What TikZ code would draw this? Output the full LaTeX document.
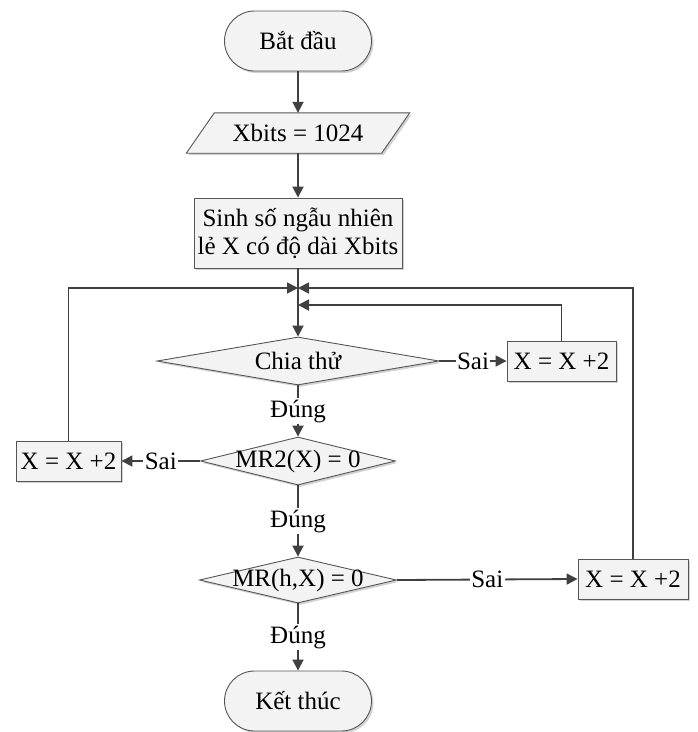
\documentclass[tikz,border=0pt]{standalone}
\usepackage{fontspec}
\setmainfont{Liberation Serif}
\usetikzlibrary{arrows.meta,shapes.geometric,shadows,backgrounds}

\definecolor{lineclr}{HTML}{404040}
\definecolor{edgeclr}{HTML}{555555}
\definecolor{shapefill}{HTML}{F3F3F3}

\tikzset{
  base/.style={draw=edgeclr, line width=0.9pt, fill=shapefill,
    drop shadow={shadow xshift=2pt, shadow yshift=-2pt, fill=black!25, opacity=0.7},
    inner sep=0pt},
  terminal/.style={base, rounded corners=30pt, minimum width=147pt, minimum height=60pt},
  process/.style={base, minimum width=#1, minimum height=40pt},
  decision/.style={base, diamond, aspect=1, inner sep=0pt},
  conn/.style={draw=lineclr, line width=1.8pt, -{Triangle[length=11pt,width=11pt]}},
  lbl/.style={fill=white, inner sep=1.5pt},
}

\begin{document}
\begin{tikzpicture}[x=1pt, y=-1pt, font=\fontsize{25}{28}\selectfont]
  \useasboundingbox (0,0) rectangle (698,732);

  % main column
  \node[terminal] (start) at (298,41) {Bắt đầu};
  \node[minimum width=223pt, minimum height=40pt, inner sep=0pt] (inp) at (298,133) {Xbits = 1024};
  \begin{scope}[on background layer]
    \path[base] ([xshift=28pt]inp.north west) -- (inp.north east)
      -- ([xshift=-28pt]inp.south east) -- (inp.south west) -- cycle;
  \end{scope}
  \node[base, minimum width=208pt, minimum height=70pt, align=center] (gen) at (298,233)
    {Sinh số ngẫu nhiên\\lẻ X có độ dài Xbits};

  \node[decision, minimum width=282pt, minimum height=48pt, label={center:Chia thử}] (d1) at (298,361) {};
  \node[decision, minimum width=195pt, minimum height=48pt, label={center:MR2(X) = 0}] (d2) at (298,461) {};
  \node[decision, minimum width=197pt, minimum height=46pt, label={center:MR(h,X) = 0}] (d3) at (298,580) {};
  \node[terminal] (stop) at (298,701) {Kết thúc};

  % increment boxes
  \node[process=109pt] (r1) at (561.5,361) {X = X +2};
  \node[process=105pt] (l1) at (68.5,461) {X = X +2};
  \node[process=110pt] (r2) at (633,579) {X = X +2};

  % merge points on the main line
  \coordinate (m1) at (298,288);
  \coordinate (m2) at (298,305);

  % connectors
  \draw[conn] (start.south) -- (inp.north);
  \draw[conn] (inp.south) -- (gen.north);
  \draw[conn] (gen.south) -- (d1.north);
  \draw[conn] (d1.south) -- node[lbl] {Đúng} (d2.north);
  \draw[conn] (d2.south) -- node[lbl] {Đúng} (d3.north);
  \draw[conn] (d3.south) -- node[lbl] {Đúng} (stop.north);

  \draw[conn] (d1.east) -- node[lbl] {Sai} (r1.west);
  \draw[conn] (d2.west) -- node[lbl] {Sai} (l1.east);
  \draw[conn] (d3.east) -- node[lbl] {Sai} (r2.west);

  % loops back to the top of the test chain
  \draw[conn] (l1.north) |- (m1);
  \draw[conn] (r2.north) |- (m1);
  \draw[conn] (r1.north) |- (m2);
\end{tikzpicture}
\end{document}
